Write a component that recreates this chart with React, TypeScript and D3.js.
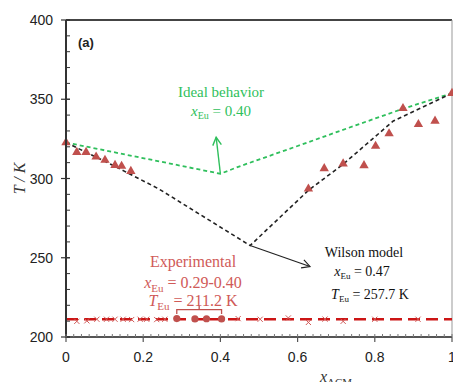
import * as d3 from 'd3'

// experimental liquidus (triangles)
const liqX = [0, 0.028, 0.052, 0.078, 0.101, 0.127, 0.144, 0.168, 0.628, 0.669, 0.718, 0.772, 0.802, 0.837, 0.873, 0.913, 0.956, 1]
const liqT = [322.7, 316.6, 316.6, 313.7, 311.6, 308.4, 307.8, 304.6, 293.5, 306.3, 309.3, 308.2, 320.4, 328.3, 344.3, 334.2, 336.3, 353.8]

// eutectic arrests
const crossX = [0.028, 0.054, 0.08, 0.105, 0.127, 0.148, 0.17, 0.192, 0.209, 0.235, 0.256, 0.446, 0.503, 0.576, 0.628, 0.671, 0.718, 0.8, 0.912]
const crossT = [209.9, 210.2, 211.2, 211.2, 211.2, 211.2, 211.0, 211.2, 211.2, 211.0, 211.2, 211.6, 211.2, 212.0, 209.2, 211.3, 209.9, 211.2, 211.2]
const dotX = [0.287, 0.334, 0.364, 0.403]
const dotT = [211.6, 211.4, 211.5, 211.4]
const eutecticT = 211.2

// model curves
const idealX = [0, 0.4, 0.45, 0.6, 0.75, 0.873, 1]
const idealT = [322.7, 303, 307.7, 320.5, 333.5, 344, 353.8]
const wilsonX = [0, 0.12, 0.24, 0.477, 0.628, 0.718, 0.848, 1]
const wilsonT = [322.7, 308.5, 293.5, 257.7, 292.5, 309, 336.3, 353.8]

const xTicks = [0, 0.2, 0.4, 0.6, 0.8, 1]
const yTicks = [200, 250, 300, 350, 400]

const W = 453
const H = 382
const x = d3.scaleLinear().domain([0, 1]).range([66, 452])
const y = d3.scaleLinear().domain([200, 400]).range([337, 20])

const serif = '"Liberation Serif", "DejaVu Serif", serif'
const sans = '"Liberation Sans", Arial, sans-serif'
const green = '#2fbf5c'
const redText = '#d05a58'
const redMark = '#c0504d'

function arrow(x1: number, y1: number, x2: number, y2: number, color: string, w = 1.4) {
  const a = Math.atan2(y2 - y1, x2 - x1)
  const s = 9
  const h = 0.5
  const p1 = [x2 - s * Math.cos(a - h), y2 - s * Math.sin(a - h)]
  const p2 = [x2 - s * Math.cos(a + h), y2 - s * Math.sin(a + h)]
  return (
    <g stroke={color} strokeWidth={w} fill="none">
      <line x1={x1} y1={y1} x2={x2} y2={y2} />
      <path d={`M${p1[0]},${p1[1]}L${x2},${y2}L${p2[0]},${p2[1]}`} />
    </g>
  )
}

export default function App() {
  const idealPath = d3.line<number>().x((_, i) => x(idealX[i])).y((_, i) => y(idealT[i]))(idealX)
  const wilsonPath = d3.line<number>().x((_, i) => x(wilsonX[i])).y((_, i) => y(wilsonT[i]))(wilsonX)

  const minorX = d3.range(0, 1.0001, 0.02)
  const minorY = d3.range(200, 400.1, 10)

  const tri = d3.symbol().type(d3.symbolTriangle).size(38)()

  return (
    <svg width={W} height={H} style={{ position: 'absolute', left: 0, top: 0, background: '#fff' }}>
      {/* frame */}
      <line x1={x(0)} y1={y(400)} x2={x(1)} y2={y(400)} stroke="#444" strokeWidth={2} />
      <line x1={x(1)} y1={y(400)} x2={x(1)} y2={y(200)} stroke="#999" strokeWidth={1} />

      {/* eutectic line */}
      <line
        x1={x(0)}
        y1={y(eutecticT)}
        x2={x(1)}
        y2={y(eutecticT)}
        stroke="#cc1515"
        strokeWidth={2.6}
        strokeDasharray="12,6"
      />

      {/* model lines */}
      <path d={idealPath || ''} fill="none" stroke={green} strokeWidth={1.8} strokeDasharray="4,3" />
      <path d={wilsonPath || ''} fill="none" stroke="#222" strokeWidth={1.6} strokeDasharray="4,3" />

      {/* triangles */}
      {liqX.map((v, i) => (
        <path key={'t' + i} d={tri || ''} transform={`translate(${x(v)},${y(liqT[i])})`} fill={redMark} />
      ))}

      {/* crosses */}
      {crossX.map((v, i) => {
        const cx = x(v)
        const cy = y(crossT[i])
        const r = 2.6
        return (
          <path
            key={'c' + i}
            d={`M${cx - r},${cy - r}L${cx + r},${cy + r}M${cx - r},${cy + r}L${cx + r},${cy - r}`}
            stroke={redText}
            strokeWidth={1}
          />
        )
      })}
      {dotX.map((v, i) => (
        <circle key={'d' + i} cx={x(v)} cy={y(dotT[i])} r={3.6} fill={redMark} />
      ))}

      {/* bracket */}
      <path
        d={`M${x(dotX[0])},${y(214.5)}V${y(217.3)}H${x(dotX[3])}V${y(214.5)}M${x(0.345)},${y(217.3)}V${y(219.5)}`}
        fill="none"
        stroke={redMark}
        strokeWidth={1.3}
      />

      {/* axes */}
      <line x1={x(0)} y1={y(400)} x2={x(0)} y2={y(200) + 1} stroke="#333" strokeWidth={2} />
      <line x1={x(0) - 1} y1={y(200)} x2={x(1)} y2={y(200)} stroke="#555" strokeWidth={2} />
      {minorY.map((v) => (
        <line key={'my' + v} x1={x(0)} x2={x(0) + 4} y1={y(v)} y2={y(v)} stroke="#333" strokeWidth={1} />
      ))}
      {yTicks.map((v) => (
        <g key={'y' + v}>
          <line x1={x(0) - 5} x2={x(0) + 4} y1={y(v)} y2={y(v)} stroke="#333" strokeWidth={1.2} />
          <text x={53} y={y(v) + 5} textAnchor="end" fontFamily={sans} fontSize={14} fill="#222">
            {v}
          </text>
        </g>
      ))}
      {minorX.map((v, i) => (
        <line key={'mx' + i} x1={x(v)} x2={x(v)} y1={y(200)} y2={y(200) - 3} stroke="#777" strokeWidth={1} />
      ))}
      {xTicks.map((v) => (
        <g key={'x' + v}>
          <line x1={x(v)} x2={x(v)} y1={y(200)} y2={y(200) + 5} stroke="#555" strokeWidth={1.2} />
          <text x={x(v)} y={362} textAnchor="middle" fontFamily={sans} fontSize={14} fill="#222">
            {String(v)}
          </text>
        </g>
      ))}

      {/* axis titles */}
      <text
        transform={`translate(25,${y(300)}) rotate(-90)`}
        textAnchor="middle"
        fontFamily={serif}
        fontStyle="italic"
        fontSize={16}
        fill="#333"
      >
        T / K
      </text>
      <text x={336} y={382} textAnchor="middle" fontFamily={serif} fontSize={16} fill="#333">
        <tspan fontStyle="italic">x</tspan>
        <tspan fontSize={11} dy={4}>ACM</tspan>
      </text>

      <text x={78} y={47} fontFamily={sans} fontWeight="bold" fontSize={13} fill="#222">
        (a)
      </text>

      {/* ideal annotation */}
      {arrow(x(0.4), y(303), x(0.389), y(326), green)}
      <text x={221} y={97} textAnchor="middle" fontFamily={serif} fontSize={15} fill={green}>
        Ideal behavior
      </text>
      <text x={221} y={116} textAnchor="middle" fontFamily={serif} fontSize={15} fill={green}>
        <tspan fontStyle="italic">x</tspan>
        <tspan fontSize={10} dy={3}>Eu</tspan>
        <tspan dy={-3}> = 0.40</tspan>
      </text>

      {/* wilson annotation */}
      {arrow(x(0.477), y(257.7), x(0.632), y(244.5), '#222', 1.2)}
      <text x={364} y={257} textAnchor="middle" fontFamily={serif} fontSize={14} fill="#111">
        Wilson model
      </text>
      <text x={362} y={276} textAnchor="middle" fontFamily={serif} fontSize={14} fill="#111">
        <tspan fontStyle="italic">x</tspan>
        <tspan fontSize={9} dy={3}>Eu</tspan>
        <tspan dy={-3}> = 0.47</tspan>
      </text>
      <text x={370} y={299} textAnchor="middle" fontFamily={serif} fontSize={14} fill="#111">
        <tspan fontStyle="italic">T</tspan>
        <tspan fontSize={9} dy={3}>Eu</tspan>
        <tspan dy={-3}> = 257.7 K</tspan>
      </text>

      {/* experimental annotation */}
      <text x={193} y={267} textAnchor="middle" fontFamily={serif} fontSize={16} fill={redText}>
        Experimental
      </text>
      <text x={193} y={288} textAnchor="middle" fontFamily={serif} fontSize={16} fill={redText}>
        <tspan fontStyle="italic">x</tspan>
        <tspan fontSize={11} dy={4}>Eu</tspan>
        <tspan dy={-4}> = 0.29-0.40</tspan>
      </text>
      <text x={193} y={306} textAnchor="middle" fontFamily={serif} fontSize={16} fill={redText}>
        <tspan fontStyle="italic">T</tspan>
        <tspan fontSize={11} dy={4}>Eu</tspan>
        <tspan dy={-4}> = 211.2 K</tspan>
      </text>
    </svg>
  )
}
